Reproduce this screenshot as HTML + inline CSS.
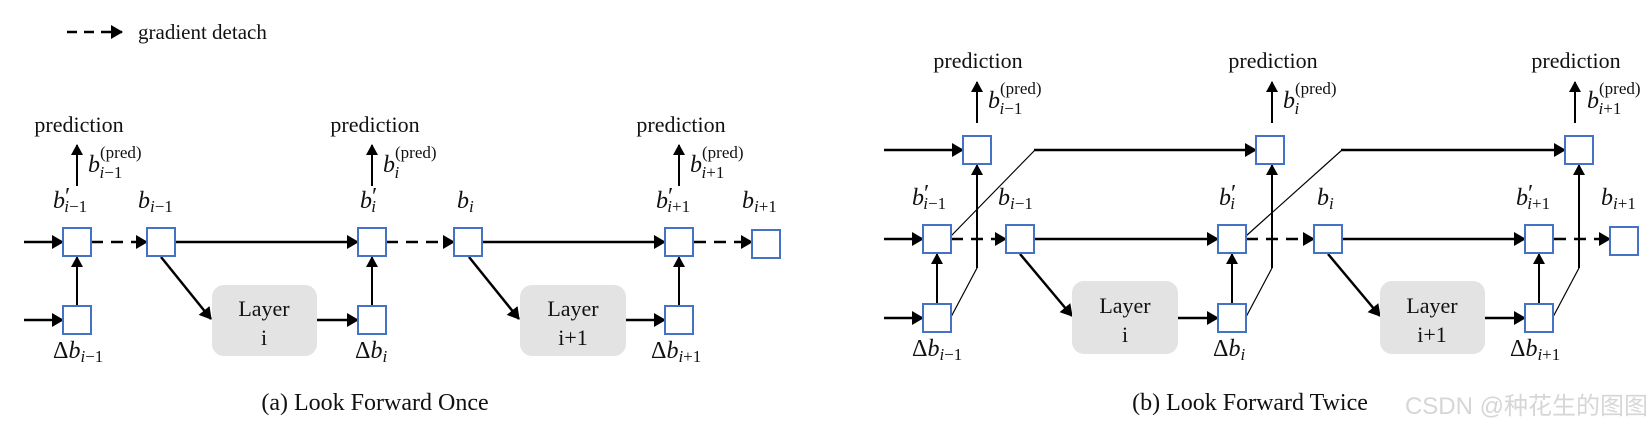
<!DOCTYPE html>
<html><head><meta charset="utf-8"><style>
html,body{margin:0;padding:0;background:#fff;}
svg{display:block;}
text{font-family:"Liberation Serif",serif;fill:#111;}
.m{font-style:italic;font-size:24px;}
.s{font-size:17px;font-style:italic;}
.n{font-style:normal;}
</style></head><body>
<svg width="1648" height="436" viewBox="0 0 1648 436" xmlns="http://www.w3.org/2000/svg">
<defs>
<marker id="a" markerWidth="11" markerHeight="12" refX="10" refY="6" orient="auto" markerUnits="userSpaceOnUse"><path d="M0,0 L11,6 L0,12 z" fill="#000"/></marker>
<marker id="b" markerWidth="12" markerHeight="14" refX="11" refY="7" orient="auto" markerUnits="userSpaceOnUse"><path d="M0,0 L12,7 L0,14 z" fill="#000"/></marker>
</defs>
<g stroke="#000" fill="none">
<line x1="67" y1="32" x2="122" y2="32" stroke-width="2.5" stroke-dasharray="10,7" marker-end="url(#b)"/>
<g stroke-width="2.5">
<line x1="24" y1="242" x2="63" y2="242" marker-end="url(#b)"/>
<line x1="91" y1="242" x2="147" y2="242" stroke-dasharray="12,8" marker-end="url(#b)"/>
<line x1="175" y1="242" x2="358" y2="242" marker-end="url(#b)"/>
<line x1="386" y1="242" x2="454" y2="242" stroke-dasharray="12,8" marker-end="url(#b)"/>
<line x1="482" y1="242" x2="665" y2="242" marker-end="url(#b)"/>
<line x1="694" y1="242" x2="752" y2="242" stroke-dasharray="12,8" marker-end="url(#b)"/>
<line x1="24" y1="320" x2="63" y2="320" marker-end="url(#b)"/>
<line x1="317" y1="320" x2="358" y2="320" marker-end="url(#b)"/>
<line x1="626" y1="320" x2="665" y2="320" marker-end="url(#b)"/>
<line x1="161" y1="257" x2="211" y2="319" marker-end="url(#b)"/>
<line x1="469" y1="257" x2="519" y2="319" marker-end="url(#b)"/>
</g>
<g stroke-width="2">
<line x1="77" y1="306" x2="77" y2="257" marker-end="url(#a)"/>
<line x1="372" y1="306" x2="372" y2="257" marker-end="url(#a)"/>
<line x1="679" y1="306" x2="679" y2="257" marker-end="url(#a)"/>
<line x1="77" y1="186" x2="77" y2="145" marker-end="url(#a)"/>
<line x1="372" y1="186" x2="372" y2="145" marker-end="url(#a)"/>
<line x1="679" y1="186" x2="679" y2="145" marker-end="url(#a)"/>
</g>
<g stroke-width="2.5">
<line x1="884" y1="150" x2="963" y2="150" marker-end="url(#b)"/>
<line x1="1034" y1="150" x2="1256" y2="150" marker-end="url(#b)"/>
<line x1="1341" y1="150" x2="1565" y2="150" marker-end="url(#b)"/>
<line x1="884" y1="239" x2="923" y2="239" marker-end="url(#b)"/>
<line x1="951" y1="239" x2="1006" y2="239" stroke-dasharray="12,8" marker-end="url(#b)"/>
<line x1="1034" y1="239" x2="1218" y2="239" marker-end="url(#b)"/>
<line x1="1246" y1="239" x2="1314" y2="239" stroke-dasharray="12,8" marker-end="url(#b)"/>
<line x1="1342" y1="239" x2="1525" y2="239" marker-end="url(#b)"/>
<line x1="1554" y1="239" x2="1610" y2="239" stroke-dasharray="12,8" marker-end="url(#b)"/>
<line x1="884" y1="318" x2="923" y2="318" marker-end="url(#b)"/>
<line x1="1178" y1="318" x2="1218" y2="318" marker-end="url(#b)"/>
<line x1="1485" y1="318" x2="1525" y2="318" marker-end="url(#b)"/>
<line x1="1020" y1="254" x2="1072" y2="316" marker-end="url(#b)"/>
<line x1="1328" y1="254" x2="1380" y2="316" marker-end="url(#b)"/>
</g>
<g stroke-width="2">
<line x1="937" y1="304" x2="937" y2="254" marker-end="url(#a)"/>
<line x1="1232" y1="304" x2="1232" y2="254" marker-end="url(#a)"/>
<line x1="1539" y1="304" x2="1539" y2="254" marker-end="url(#a)"/>
<line x1="977" y1="268" x2="977" y2="165" marker-end="url(#a)"/>
<line x1="1272" y1="268" x2="1272" y2="165" marker-end="url(#a)"/>
<line x1="1579" y1="268" x2="1579" y2="165" marker-end="url(#a)"/>
<line x1="977" y1="123" x2="977" y2="82" marker-end="url(#a)"/>
<line x1="1272" y1="123" x2="1272" y2="82" marker-end="url(#a)"/>
<line x1="1575" y1="123" x2="1575" y2="82" marker-end="url(#a)"/>
</g>
<g stroke-width="1.2">
<line x1="951" y1="317" x2="977" y2="268"/>
<line x1="1246" y1="317" x2="1272" y2="268"/>
<line x1="1553" y1="317" x2="1579" y2="268"/>
<line x1="951" y1="236" x2="1035" y2="150"/>
<line x1="1246" y1="236" x2="1342" y2="150"/>
</g>
<g fill="#e3e3e3" stroke="none">
<rect x="212" y="285" width="105" height="71" rx="12"/>
<rect x="520" y="285" width="106" height="71" rx="12"/>
<rect x="1072" y="281" width="106" height="73" rx="12"/>
<rect x="1380" y="281" width="105" height="73" rx="12"/>
</g>
<g fill="#fff" stroke="#4472c4" stroke-width="2">
<rect x="63" y="228" width="28" height="28"/>
<rect x="147" y="228" width="28" height="28"/>
<rect x="358" y="228" width="28" height="28"/>
<rect x="454" y="228" width="28" height="28"/>
<rect x="665" y="228" width="28" height="28"/>
<rect x="752" y="230" width="28" height="28"/>
<rect x="63" y="306" width="28" height="28"/>
<rect x="358" y="306" width="28" height="28"/>
<rect x="665" y="306" width="28" height="28"/>
<rect x="963" y="136" width="28" height="28"/>
<rect x="1256" y="136" width="28" height="28"/>
<rect x="1565" y="136" width="28" height="28"/>
<rect x="923" y="225" width="28" height="28"/>
<rect x="1006" y="225" width="28" height="28"/>
<rect x="1218" y="225" width="28" height="28"/>
<rect x="1314" y="225" width="28" height="28"/>
<rect x="1525" y="225" width="28" height="28"/>
<rect x="1610" y="227" width="28" height="28"/>
<rect x="923" y="304" width="28" height="28"/>
<rect x="1218" y="304" width="28" height="28"/>
<rect x="1525" y="304" width="28" height="28"/>
</g>
</g>
<text x="138" y="39" font-size="21">gradient detach</text>
<g font-size="22" text-anchor="middle">
<text x="79" y="132">prediction</text>
<text x="375" y="132">prediction</text>
<text x="681" y="132">prediction</text>
<text x="978" y="68">prediction</text>
<text x="1273" y="68">prediction</text>
<text x="1576" y="68">prediction</text>
<text x="264" y="316">Layer</text><text x="264" y="345">i</text>
<text x="573" y="316">Layer</text><text x="573" y="345">i+1</text>
<text x="1125" y="313">Layer</text><text x="1125" y="342">i</text>
<text x="1432" y="313">Layer</text><text x="1432" y="342">i+1</text>
</g>
<text x="375" y="410" font-size="24" text-anchor="middle">(a) Look Forward Once</text>
<text x="1250" y="410" font-size="24" text-anchor="middle">(b) Look Forward Twice</text>
<text x="1648" y="414" font-size="24" text-anchor="end" style="fill:#d6d6d6;font-family:'Liberation Sans','Noto Sans CJK SC',sans-serif">CSDN @种花生的图图</text>

<g class="m">
<text x="88" y="172">b<tspan class="n" font-size="17" dy="-14">(pred)</tspan><tspan class="s" dx="-42" dy="20">i</tspan><tspan class="n" font-size="17">−1</tspan></text>
<text x="383" y="172">b<tspan class="n" font-size="17" dy="-14">(pred)</tspan><tspan class="s" dx="-42" dy="20">i</tspan></text>
<text x="690" y="172">b<tspan class="n" font-size="17" dy="-14">(pred)</tspan><tspan class="s" dx="-42" dy="20">i</tspan><tspan class="n" font-size="17">+1</tspan></text>
<text x="988" y="108">b<tspan class="n" font-size="17" dy="-14">(pred)</tspan><tspan class="s" dx="-42" dy="20">i</tspan><tspan class="n" font-size="17">−1</tspan></text>
<text x="1283" y="108">b<tspan class="n" font-size="17" dy="-14">(pred)</tspan><tspan class="s" dx="-42" dy="20">i</tspan></text>
<text x="1587" y="108">b<tspan class="n" font-size="17" dy="-14">(pred)</tspan><tspan class="s" dx="-42" dy="20">i</tspan><tspan class="n" font-size="17">+1</tspan></text>

<text x="53" y="208">b<tspan class="n" dy="-4">′</tspan><tspan class="s" dx="-6" dy="8">i</tspan><tspan class="n" font-size="17">−1</tspan></text>
<text x="138" y="208">b<tspan class="s" dy="4">i</tspan><tspan class="n" font-size="17">−1</tspan></text>
<text x="360" y="208">b<tspan class="n" dy="-4">′</tspan><tspan class="s" dx="-6" dy="8">i</tspan></text>
<text x="457" y="208">b<tspan class="s" dy="4">i</tspan></text>
<text x="656" y="208">b<tspan class="n" dy="-4">′</tspan><tspan class="s" dx="-6" dy="8">i</tspan><tspan class="n" font-size="17">+1</tspan></text>
<text x="742" y="208">b<tspan class="s" dy="4">i</tspan><tspan class="n" font-size="17">+1</tspan></text>
<text x="53" y="358"><tspan class="n">Δ</tspan>b<tspan class="s" dy="4">i</tspan><tspan class="n" font-size="17">−1</tspan></text>
<text x="355" y="358"><tspan class="n">Δ</tspan>b<tspan class="s" dy="4">i</tspan></text>
<text x="651" y="358"><tspan class="n">Δ</tspan>b<tspan class="s" dy="4">i</tspan><tspan class="n" font-size="17">+1</tspan></text>

<text x="912" y="205">b<tspan class="n" dy="-4">′</tspan><tspan class="s" dx="-6" dy="8">i</tspan><tspan class="n" font-size="17">−1</tspan></text>
<text x="998" y="205">b<tspan class="s" dy="4">i</tspan><tspan class="n" font-size="17">−1</tspan></text>
<text x="1219" y="205">b<tspan class="n" dy="-4">′</tspan><tspan class="s" dx="-6" dy="8">i</tspan></text>
<text x="1317" y="205">b<tspan class="s" dy="4">i</tspan></text>
<text x="1516" y="205">b<tspan class="n" dy="-4">′</tspan><tspan class="s" dx="-6" dy="8">i</tspan><tspan class="n" font-size="17">+1</tspan></text>
<text x="1601" y="205">b<tspan class="s" dy="4">i</tspan><tspan class="n" font-size="17">+1</tspan></text>
<text x="912" y="356"><tspan class="n">Δ</tspan>b<tspan class="s" dy="4">i</tspan><tspan class="n" font-size="17">−1</tspan></text>
<text x="1213" y="356"><tspan class="n">Δ</tspan>b<tspan class="s" dy="4">i</tspan></text>
<text x="1510" y="356"><tspan class="n">Δ</tspan>b<tspan class="s" dy="4">i</tspan><tspan class="n" font-size="17">+1</tspan></text>
</g>
</svg>
</body></html>
